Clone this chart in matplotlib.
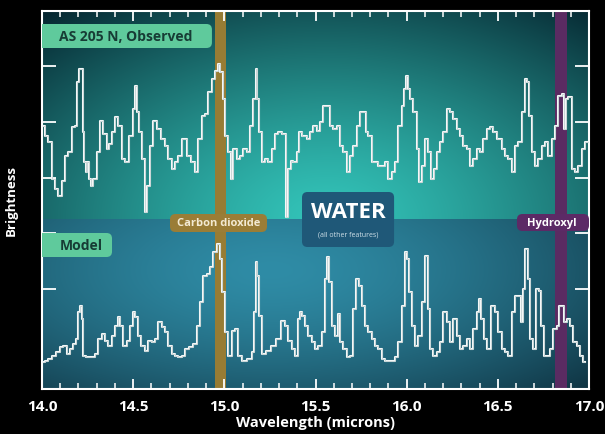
import matplotlib
matplotlib.use("Agg")
import matplotlib.pyplot as plt
import numpy as np
from matplotlib.patches import FancyBboxPatch, Rectangle

plt.rcParams['font.family'] = ['Open Sans', 'DejaVu Sans']

# observed spectrum of AS 205 N (wavelength in microns, brightness in arbitrary units)
obs_wave = [14.007, 14.026, 14.044, 14.062, 14.080, 14.099, 14.117, 14.135, 14.154, 14.172,
            14.190, 14.199, 14.208, 14.221, 14.227, 14.236, 14.245, 14.254, 14.263, 14.272,
            14.291, 14.309, 14.327, 14.346, 14.364, 14.373, 14.391, 14.410, 14.428, 14.446,
            14.464, 14.492, 14.501, 14.514, 14.525, 14.537, 14.556, 14.574, 14.583, 14.601,
            14.620, 14.638, 14.665, 14.684, 14.702, 14.720, 14.739, 14.757, 14.784, 14.803,
            14.830, 14.848, 14.867, 14.885, 14.903, 14.921, 14.940, 14.958, 14.971, 14.985,
            14.995, 15.013, 15.031, 15.040, 15.059, 15.077, 15.095, 15.113, 15.132, 15.150,
            15.165, 15.177, 15.186, 15.196, 15.214, 15.232, 15.250, 15.269, 15.287, 15.305,
            15.333, 15.345, 15.358, 15.369, 15.388, 15.406,
            15.415, 15.442, 15.461, 15.479, 15.497, 15.515, 15.534, 15.552, 15.570, 15.589,
            15.607, 15.625, 15.643, 15.662, 15.680, 15.698, 15.717, 15.735, 15.753, 15.771,
            15.781, 15.799, 15.817, 15.835, 15.854, 15.872, 15.890, 15.909, 15.927, 15.945,
            15.963, 15.982, 15.991, 16.000, 16.013, 16.027, 16.046, 16.064, 16.073, 16.091,
            16.110, 16.128, 16.143, 16.161, 16.174, 16.192, 16.210, 16.229, 16.247, 16.265,
            16.283, 16.302, 16.320, 16.338, 16.356, 16.375, 16.393, 16.411, 16.430, 16.448,
            16.466, 16.484, 16.512, 16.530, 16.548, 16.567, 16.585, 16.603, 16.621, 16.640,
            16.653, 16.667, 16.676, 16.695, 16.713, 16.731, 16.750, 16.768, 16.786, 16.804,
            16.823, 16.841, 16.859, 16.868, 16.878, 16.896, 16.914, 16.932, 16.951, 16.969,
            16.987, 16.996]
obs_flux = [26.3, 25.3, 24.7, 21.0, 20.0, 19.3, 20.8, 23.3, 23.7, 26.2,
            26.3, 30.7, 32.0, 32.0, 25.7, 22.7, 21.7, 22.7, 21.0, 20.3,
            21.0, 23.7, 26.8, 25.5, 24.0, 24.5, 25.7, 27.2, 26.3, 23.0,
            22.7, 25.3, 28.0, 30.3, 27.7, 25.7, 23.0, 17.7, 20.3, 24.3,
            26.8, 26.0, 25.0, 24.3, 23.0, 22.0, 22.7, 23.3, 25.0, 23.3,
            22.7, 21.7, 25.0, 27.3, 27.5, 29.7, 31.0, 31.8, 32.5, 31.7,
            29.0, 25.3, 23.7, 21.0, 24.0, 23.0, 23.3, 24.0, 23.7, 26.3,
            29.0, 32.0, 29.0, 25.7, 22.7, 23.0, 22.7, 24.0, 25.5, 25.7,
            25.5, 17.2, 22.0, 22.8, 22.7, 23.7,
            25.7, 25.3, 25.0, 25.7, 26.3, 25.8, 26.7, 28.3, 28.3, 26.3,
            26.0, 26.3, 24.3, 23.7, 21.7, 23.3, 24.3, 26.3, 27.7, 27.7,
            25.7, 25.3, 22.7, 22.7, 22.3, 22.3, 22.7, 21.0, 21.7, 22.7,
            26.3, 28.3, 30.0, 31.3, 30.0, 29.0, 27.7, 24.0, 20.7, 22.3,
            25.0, 23.7, 21.0, 22.0, 23.7, 24.7, 25.7, 28.0, 27.7, 27.0,
            26.0, 25.3, 24.3, 24.0, 22.3, 23.0, 24.0, 23.7, 25.0, 26.0,
            26.2, 25.7, 25.0, 24.0, 23.3, 23.0, 21.7, 24.3, 24.7, 27.7,
            31.0, 30.7, 27.3, 23.7, 22.3, 23.0, 24.3, 24.7, 23.3, 25.0,
            26.3, 29.3, 29.5, 26.0, 29.0, 29.2, 22.0, 21.7, 22.3, 24.0,
            24.7, 24.7]

# model spectrum
model_wave = [14.007, 14.026, 14.044, 14.062, 14.090, 14.108, 14.126, 14.144, 14.163, 14.181,
              14.194, 14.203, 14.212, 14.223, 14.230, 14.254, 14.282, 14.300, 14.318, 14.336,
              14.355, 14.373, 14.391, 14.410, 14.424, 14.437, 14.455, 14.473, 14.492, 14.505,
              14.519, 14.534, 14.556, 14.574, 14.592, 14.611, 14.629, 14.647, 14.665, 14.684,
              14.702, 14.720, 14.739, 14.757, 14.775, 14.793, 14.821, 14.839, 14.857, 14.876,
              14.894, 14.912, 14.931, 14.949, 14.967, 14.980, 14.995, 15.013, 15.031, 15.049,
              15.068, 15.086, 15.113, 15.141, 15.159, 15.168, 15.177, 15.186, 15.196, 15.214,
              15.241, 15.269, 15.296, 15.324, 15.342, 15.360, 15.378, 15.397, 15.410,
              15.415, 15.433, 15.452, 15.470, 15.488, 15.506, 15.525, 15.543, 15.558, 15.570,
              15.580, 15.598, 15.616, 15.629, 15.643, 15.662, 15.680, 15.698, 15.717, 15.729,
              15.744, 15.762, 15.781, 15.799, 15.817, 15.835, 15.854, 15.872, 15.890, 15.927,
              15.945, 15.963, 15.982, 15.996, 16.009, 16.018, 16.037, 16.055, 16.073, 16.091,
              16.110, 16.124, 16.137, 16.155, 16.174, 16.192, 16.210, 16.229, 16.247, 16.265,
              16.283, 16.302, 16.320, 16.338, 16.356, 16.375, 16.393, 16.402, 16.417, 16.430,
              16.448, 16.475, 16.494, 16.512, 16.530, 16.548, 16.567, 16.585, 16.603, 16.621,
              16.631, 16.643, 16.658, 16.671, 16.686, 16.704, 16.717, 16.731, 16.744, 16.759,
              16.777, 16.795, 16.814, 16.832, 16.841, 16.859, 16.872, 16.887, 16.905, 16.923,
              16.941, 16.960, 16.978]
model_flux = [2.7, 2.8, 3.0, 3.3, 3.7, 4.2, 4.3, 3.5, 4.0, 4.5,
              5.0, 7.7, 8.3, 7.0, 3.3, 3.2, 3.2, 3.5, 5.0, 5.5,
              4.8, 4.3, 5.3, 6.3, 7.2, 6.3, 4.3, 4.8, 6.3, 7.7,
              7.2, 5.3, 4.3, 3.8, 4.8, 4.7, 5.0, 6.7, 6.2, 5.7,
              4.3, 3.5, 3.3, 3.2, 3.3, 4.0, 4.2, 4.5, 6.3, 8.7,
              11.3, 11.5, 12.2, 13.7, 14.5, 13.0, 9.7, 5.7, 3.3, 5.8,
              6.0, 3.3, 2.8, 3.0, 3.7, 7.7, 12.7, 11.3, 7.3, 3.5,
              3.8, 4.3, 5.0, 6.8, 6.3, 4.8, 4.0, 3.3, 7.0,
              7.7, 7.3, 6.3, 5.3, 4.7, 4.0, 4.3, 5.7, 11.0, 13.2,
              10.7, 6.3, 5.3, 7.5, 4.7, 4.0, 3.2, 3.3, 8.0, 11.0,
              10.3, 8.3, 6.3, 5.7, 5.0, 4.3, 4.0, 3.0, 2.8, 2.8,
              3.2, 4.7, 8.3, 13.7, 13.0, 9.7, 6.3, 4.3, 5.3, 8.7,
              13.3, 8.0, 4.0, 3.3, 3.7, 4.7, 7.7, 6.7, 4.7, 7.0,
              5.3, 4.0, 4.3, 5.0, 4.0, 6.0, 7.7, 9.0, 7.0, 5.0,
              4.0, 8.3, 7.7, 5.7, 4.0, 3.7, 3.3, 7.7, 9.3, 9.3,
              6.7, 10.0, 14.0, 11.0, 5.0, 4.0, 10.0, 9.8, 6.3, 3.3,
              3.3, 4.0, 6.0, 6.3, 8.3, 8.3, 6.7, 7.0, 6.3, 4.7,
              4.3, 3.3, 2.7]

co2_band = (14.949, 15.009)
oh_band = (16.814, 16.880)
split = 17.0          # brightness where upper panel meets lower panel
ytop = 37.8
y_ticks = [10.0, 15.6, 21.1, 26.7, 32.3]


def hexrgb(h):
    h = h.lstrip('#')
    return np.array([int(h[i:i + 2], 16) / 255 for i in (0, 2, 4)])


def glow(cx, cy, rx, ry, inner, outer, gamma=1.0, n=300):
    u, v = np.meshgrid(np.linspace(0, 1, n), np.linspace(0, 1, n))
    d = np.sqrt(((u - cx) / rx) ** 2 + ((v - cy) / ry) ** 2)
    t = np.clip(d, 0, 1) ** gamma
    return hexrgb(inner) * (1 - t)[..., None] + hexrgb(outer) * t[..., None]


fig = plt.figure(figsize=(6.05, 4.35), dpi=100, facecolor='black')
ax = fig.add_axes([42 / 605, 45 / 435, 547 / 605, 378 / 435])
ax.set_facecolor('black')

ax.imshow(glow(0.52, 0.0, 0.8, 1.3, '#33c4b9', '#062630', 1.3), origin='lower',
          extent=[14, 17, split, ytop], aspect='auto', zorder=0, interpolation='bilinear')
ax.imshow(glow(0.42, 0.7, 0.9, 1.2, '#2f8ca6', '#081f2b', 1.5), origin='lower',
          extent=[14, 17, 0, split], aspect='auto', zorder=0, interpolation='bilinear')

ax.axvspan(*co2_band, color='#977c34', zorder=1, lw=0)
ax.axvspan(*oh_band, color='#5a2b62', zorder=1, lw=0)

for w, f in [(obs_wave, obs_flux), (model_wave, model_flux)]:
    ax.plot(w, f, drawstyle='steps-mid', color='#f4f8f8', lw=1.5, zorder=3)
    ax.plot(w, f, drawstyle='steps-mid', color='#a9bcbd', lw=0.4, zorder=3)

ax.set_xlim(14, 17)
ax.set_ylim(0, ytop)

# labels in boxes
asp = 182.33 / 10.0  # px per micron / px per brightness unit


def box(x0, x1, y0, y1, color):
    p = FancyBboxPatch((x0, y0), x1 - x0, y1 - y0,
                       boxstyle='round,pad=0,rounding_size=0.03',
                       mutation_aspect=asp, fc=color, ec='none', zorder=4)
    ax.add_patch(p)


ax.add_patch(Rectangle((14.0, 34.1), 0.3, 2.4, fc='#5fca9c', ec='none', zorder=4))
box(14.1, 14.932, 34.1, 36.5, '#5fca9c')
ax.text(14.093, 35.3, 'AS 205 N, Observed', color='#173c35', fontsize=10,
        fontweight='bold', va='center', ha='left', zorder=5)

ax.add_patch(Rectangle((14.0, 13.2), 0.2, 2.4, fc='#5fca9c', ec='none', zorder=4))
box(14.1, 14.384, 13.2, 15.6, '#5fca9c')
ax.text(14.099, 14.4, 'Model', color='#173c35', fontsize=10,
        fontweight='bold', va='center', ha='left', zorder=5)

box(14.702, 15.234, 15.7, 17.5, '#9a7d36')
ax.text(14.968, 16.6, 'Carbon dioxide', color='#f3ead2', fontsize=8,
        fontweight='bold', va='center', ha='center', zorder=5)

box(15.426, 15.931, 14.2, 19.7, '#1f5878')
ax.text(15.678, 17.7, 'WATER', color='white', fontsize=16,
        fontweight='bold', va='center', ha='center', zorder=5)
ax.text(15.678, 15.5, '(all other features)', color='#cfe0e8', fontsize=5,
        va='center', ha='center', zorder=5)

box(16.605, 17.0, 15.8, 17.5, '#5c2a66')
ax.text(16.797, 16.65, 'Hydroxyl', color='white', fontsize=8,
        fontweight='bold', va='center', ha='center', zorder=5)

# axes decoration
for s in ax.spines.values():
    s.set_color('white')
    s.set_linewidth(1.5)
ax.set_xticks(np.arange(14.0, 17.01, 0.5))
ax.set_xticks(np.arange(14.0, 17.01, 0.1), minor=True)
ax.set_yticks(y_ticks)
ax.set_yticklabels([])
ax.tick_params(axis='x', which='major', direction='in', length=7, width=1.3,
               color='white', top=True, labelcolor='white', labelsize=11, pad=7)
ax.tick_params(axis='x', which='minor', direction='in', length=4, width=1.1,
               color='white', top=True)
ax.tick_params(axis='y', which='major', direction='in', length=10, width=1.3,
               color='white', right=True)
for lbl in ax.get_xticklabels():
    lbl.set_fontweight('bold')

ax.set_xlabel('Wavelength (microns)', color='white', fontsize=10.5,
              fontweight='bold', labelpad=2)
ax.set_ylabel('Brightness', color='white', fontsize=9.5, fontweight='bold', labelpad=14)

fig.savefig('out.png', dpi=100, facecolor='black')
